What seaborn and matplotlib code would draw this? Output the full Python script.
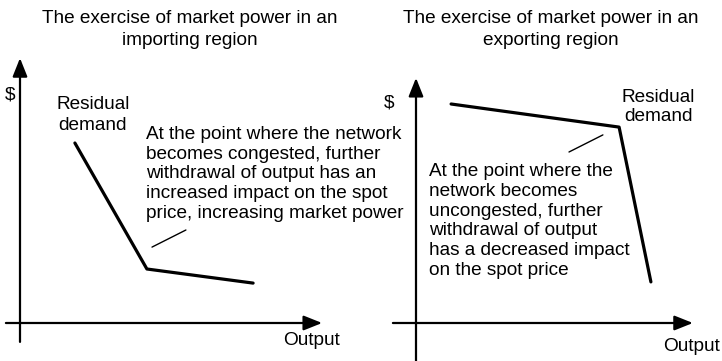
import matplotlib
matplotlib.use("Agg")
import matplotlib.pyplot as plt
import seaborn as sns
import pandas as pd

# residual demand curves (output, price) in arbitrary units, origin at axes crossing
imp_output = [1.83, 4.23, 7.77]
imp_price = [6.0, 1.8, 1.33]
exp_output = [1.17, 6.77, 7.83]
exp_price = [7.3, 6.53, 1.37]

# leader lines from annotations to the kink
imp_ptr_x = [4.4, 5.53]
imp_ptr_y = [2.53, 3.1]
exp_ptr_x = [5.1, 6.23]
exp_ptr_y = [5.7, 6.27]

titles = ["The exercise of market power in an\nimporting region",
          "The exercise of market power in an\nexporting region"]
notes = ["At the point where the network\nbecomes congested, further\n"
         "withdrawal of output has an\nincreased impact on the spot\n"
         "price, increasing market power",
         "At the point where the\nnetwork becomes\nuncongested, further\n"
         "withdrawal of output\nhas a decreased impact\non the spot price"]

sns.set_style("white")
plt.rcParams['font.family'] = ['Liberation Sans', 'DejaVu Sans']
plt.rcParams['text.color'] = 'black'
FS = 13.7

fig = plt.figure(figsize=(7.22, 3.61), dpi=100)
ax1 = fig.add_axes([0, 0, 0.5, 1])
ax2 = fig.add_axes([0.5, 0, 0.5, 1])

# 30 px per unit; left origin at px (20, 323), right origin at px (55, 323) inside its half
ax1.set_xlim(-20 / 30, 341 / 30)
ax1.set_ylim(-38 / 30, 323 / 30)
ax2.set_xlim(-55 / 30, 306 / 30)
ax2.set_ylim(-38 / 30, 323 / 30)

for ax in (ax1, ax2):
    ax.axis("off")
    ax.patch.set_visible(False)

arrow = dict(arrowstyle="-|>,head_length=0.7,head_width=0.28", color="black",
             lw=1.6, mutation_scale=16, shrinkA=0, shrinkB=0)

# left panel axes
ax1.annotate("", xy=(0, 8.83), xytext=(0, -0.63), arrowprops=arrow)
ax1.annotate("", xy=(10.07, 0), xytext=(-0.47, 0), arrowprops=arrow)
# right panel axes
ax2.annotate("", xy=(0, 8.17), xytext=(0, -1.4), arrowprops=arrow, annotation_clip=False)
ax2.annotate("", xy=(9.23, 0), xytext=(-0.77, 0), arrowprops=arrow)

imp = pd.DataFrame({"output": imp_output, "price": imp_price})
exp = pd.DataFrame({"output": exp_output, "price": exp_price})
sns.lineplot(data=imp, x="output", y="price", ax=ax1, color="black", lw=2.3,
             sort=False, estimator=None)
sns.lineplot(data=exp, x="output", y="price", ax=ax2, color="black", lw=2.3,
             sort=False, estimator=None)
ax1.plot(imp_ptr_x, imp_ptr_y, color="black", lw=1.0)
ax2.plot(exp_ptr_x, exp_ptr_y, color="black", lw=1.0)

# text
ax1.text(5.67, 9.77, titles[0], ha="center", va="center", fontsize=FS, linespacing=1.38)
ax2.text(4.5, 9.77, titles[1], ha="center", va="center", fontsize=FS, linespacing=1.38)
ax1.text(-0.33, 7.6, "$", ha="center", va="center", fontsize=FS)
ax2.text(-0.9, 7.33, "$", ha="center", va="center", fontsize=FS)
ax1.text(2.43, 6.93, "Residual\ndemand", ha="center", va="center", fontsize=FS,
         linespacing=1.25)
ax2.text(8.07, 7.2, "Residual\ndemand", ha="center", va="center", fontsize=FS,
         linespacing=1.22)
ax1.text(4.2, 4.97, notes[0], ha="left", va="center", fontsize=FS, clip_on=False,
         linespacing=1.21)
ax2.text(0.43, 3.4, notes[1], ha="left", va="center", fontsize=FS,
         linespacing=1.21)
ax1.text(9.7, -0.57, "Output", ha="center", va="center", fontsize=FS)
ax2.text(9.17, -0.77, "Output", ha="center", va="center", fontsize=FS)

ax1.set_xlabel("")
ax1.set_ylabel("")
ax2.set_xlabel("")
ax2.set_ylabel("")

fig.savefig("out.png", dpi=100)
